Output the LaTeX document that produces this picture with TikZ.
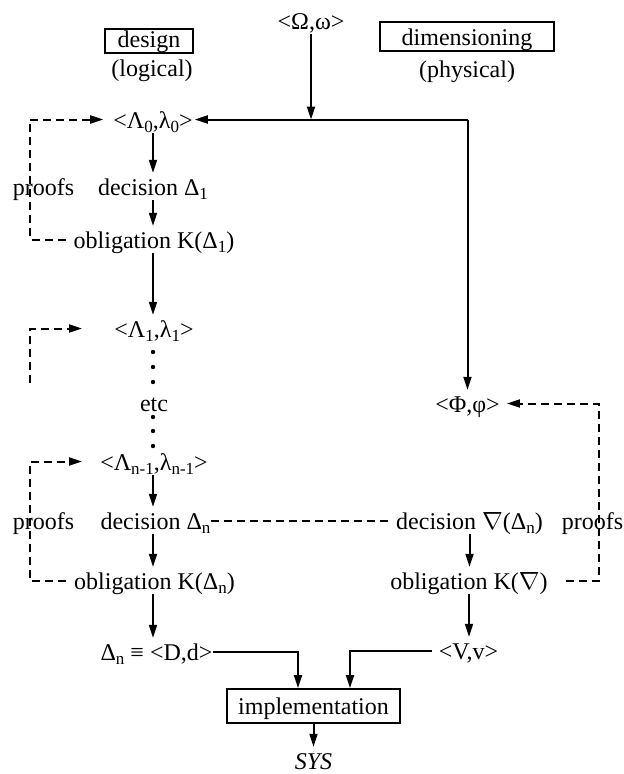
\documentclass[tikz,border=0pt]{standalone}
\usepackage{fontspec}
\setmainfont{Liberation Serif}
\usetikzlibrary{arrows.meta}
\newcommand\sbs[1]{\raisebox{-4.5pt}{\fontsize{17}{17}\selectfont #1}}
\begin{document}
\begin{tikzpicture}[x=1pt,y=-1pt,
  txt/.style={font=\fontsize{24}{28}\selectfont, text height=17pt, text depth=0pt, inner xsep=0pt, inner ysep=5pt, anchor=base},
  boxed/.style={draw, line width=1.8pt},
  ln/.style={line width=2pt},
  arr/.style={-{Triangle[length=13pt,width=8pt]}},
  dsh/.style={line width=2pt, dash pattern=on 8pt off 5pt}]
\useasboundingbox (0,0) rectangle (624,774);
% top
\node[txt] (om) at (311,29) {<Ω,ω>};
\node[txt,boxed,minimum width=88pt,text height=17pt,text depth=5pt,inner ysep=1pt] (des) at (149,47) {design};
\node[txt] (log) at (152,76) {(logical)};
\node[txt,boxed,minimum width=174pt,text height=22pt,text depth=5pt,inner ysep=1pt] (dim) at (467,45) {dimensioning};
\node[txt] (phy) at (467,77) {(physical)};
% left column
\node[txt] (l0) at (153,128) {<Λ\sbs{0},λ\sbs{0}>};
\node[txt] (p1) at (43.5,195) {proofs};
\node[txt] (d1) at (153,195) {decision Δ\sbs{1}};
\node[txt] (o1) at (154,248) {obligation K(Δ\sbs{1})};
\node[txt] (l1) at (154,337) {<Λ\sbs{1},λ\sbs{1}>};
\node[txt] (etc) at (154,411) {etc};
\node[txt] (ln1) at (154,470) {<Λ\sbs{n-1},λ\sbs{n-1}>};
\node[txt] (p2) at (43.5,529) {proofs};
\node[txt] (dn) at (155.5,529) {decision Δ\sbs{n}};
\node[txt] (on) at (154.5,589) {obligation K(Δ\sbs{n})};
\node[txt] (dd) at (156.5,660) {Δ\sbs{n} ≡ <D,d>};
% right column
\node[txt] (ph) at (467.5,412) {<Φ,φ>};
\node[txt] (dv) at (469.5,529) {decision $\nabla$(Δ\sbs{n})};
\node[txt] (p3) at (592.5,529) {proofs};
\node[txt] (ov) at (469,589) {obligation K($\nabla$)};
\node[txt] (vv) at (468.5,659) {<V,v>};
% bottom
\node[txt,boxed,text depth=1pt,inner ysep=8pt,inner xsep=11pt] (imp) at (313.5,714) {implementation};
\node[txt,font=\fontsize{24}{28}\selectfont\itshape] (sys) at (313.5,769) {SYS};
% helper coordinates
\coordinate (cr) at (ph.north |- l0.east);
\coordinate (xl) at (30,0);
\coordinate (xr) at (599,0);
\coordinate (xa) at (82,0);
\coordinate (xc) at (153,0);
\coordinate (e2) at (30,383);
% solid connectors
\draw[ln,arr] (om.south) -- (om.south |- cr);
\draw[ln,arr] (cr) -- ([xshift=2pt]l0.east);
\draw[ln,arr] (cr) -- (ph.north);
\draw[ln,arr] (l0.south -| xc) -- (d1.north -| xc);
\draw[ln,arr] (d1.south -| xc) -- (o1.north -| xc);
\draw[ln,arr] (o1.south -| xc) -- (l1.north -| xc);
\foreach \yy in {352,367,382,417,431,446} \fill (153,\yy) circle (2.2pt);
\draw[ln,arr] (ln1.south -| xc) -- (dn.north -| xc);
\draw[ln,arr] (dn.south -| xc) -- (on.north -| xc);
\draw[ln,arr] (on.south -| xc) -- (dd.north -| xc);
\draw[ln,arr] (dv.south) -- (dv.south |- ov.north);
\draw[ln,arr] (ov.south) -- (ov.south |- vv.north);
\draw[ln,arr] (dd.east) -| ([xshift=-15.5pt]imp.north);
\draw[ln,arr] ([xshift=-7pt]vv.west) -| ([xshift=36.5pt]imp.north);
\draw[ln,arr] (imp.south) -- (sys.north);
% dashed connectors
\draw[dsh,arr] ([xshift=-8pt]o1.west) -- (o1.west -| xl) |- ([xshift=-10pt]l0.west);
\draw[dsh,arr] (e2) |- (l1.west -| xa);
\draw[dsh,arr] ([xshift=-8pt]on.west) -- (on.west -| xl) |- (ln1.west -| xa);
\draw[dsh] (dn.east) -- ([xshift=-4pt]dv.west);
\draw[dsh,arr] ([xshift=18pt]ov.east) -- (ov.east -| xr) |- ([xshift=7pt]ph.east);
\end{tikzpicture}
\end{document}
